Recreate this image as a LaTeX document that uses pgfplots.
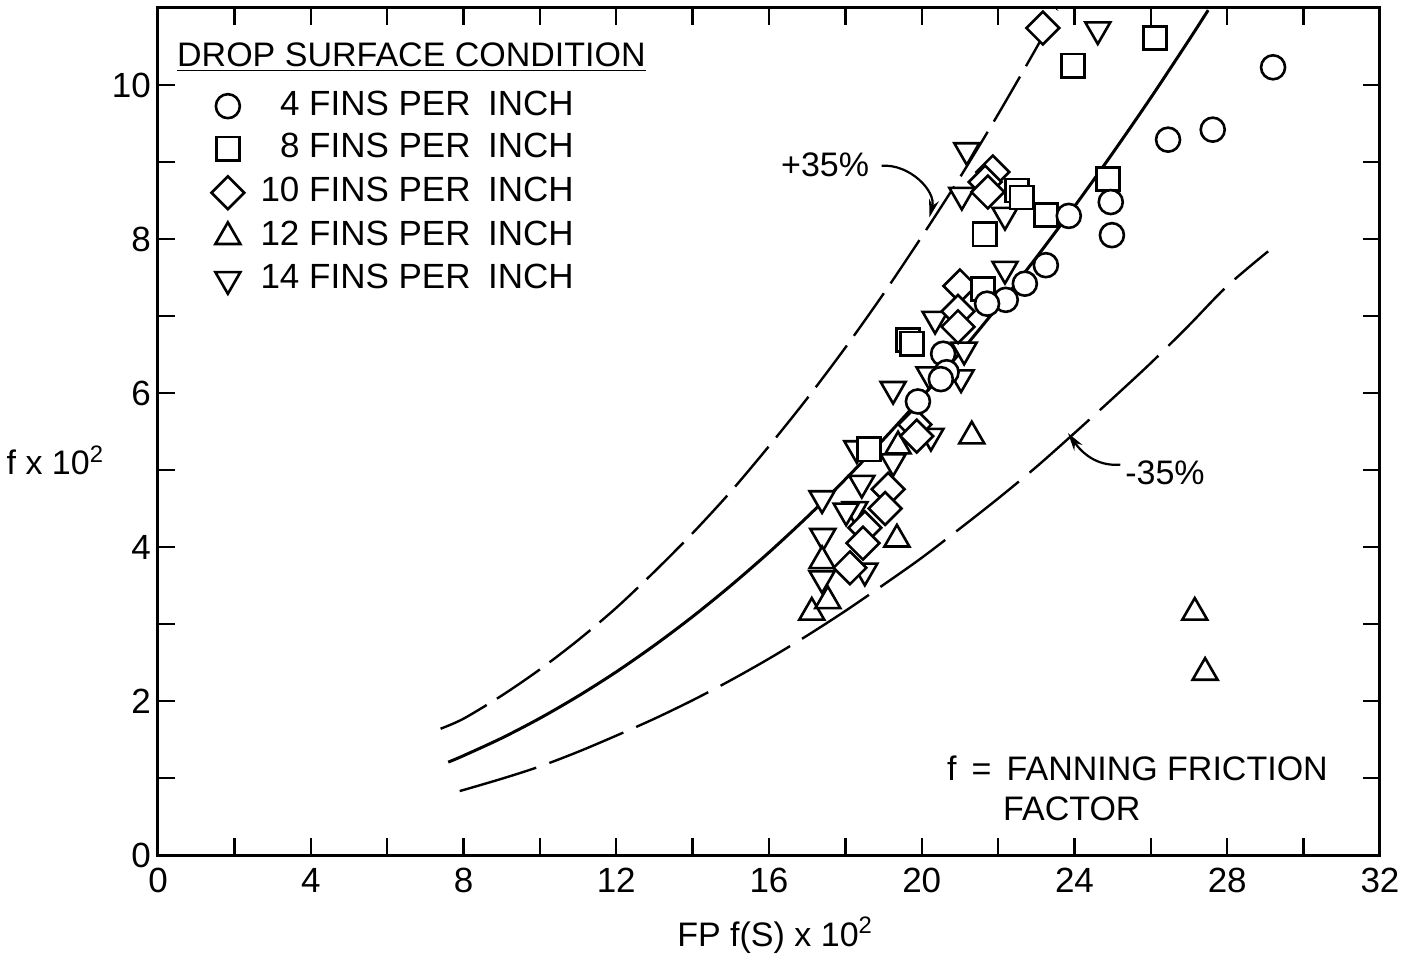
\documentclass[border=0pt]{standalone}
\usepackage{pgfplots}
\pgfplotsset{compat=1.18}
\usepackage{fontspec}
\setmainfont{Liberation Sans}
\usetikzlibrary{arrows.meta}

% correlation curve and the +/-35% bands
\pgfplotstableread{
x y
7.6 1.206
8 1.290
9 1.518
10 1.776
11 2.063
12 2.378
13 2.723
14 3.096
15 3.499
16 3.930
17 4.390
18 4.880
19 5.398
20 5.945
21 6.521
22 7.126
23 7.760
24 8.423
25 9.116
26 9.836
27 10.586
27.5 10.972
}\solidcurve
\pgfplotstableread{
x y
7.4 1.64
8 1.77
9 2.07
10 2.41
11 2.79
12 3.21
13 3.68
14 4.18
15 4.72
16 5.31
17 5.93
18 6.59
19 7.29
20 8.03
21 8.80
22 9.62
23 10.48
23.55 10.98
}\upperband
\pgfplotstableread{
x y
7.9 0.83
9 0.99
10 1.15
11 1.34
12 1.55
13 1.77
14 2.01
15 2.27
16 2.55
17 2.85
18 3.17
19 3.51
20 3.86
21 4.24
22 4.63
23 5.04
24 5.48
25 5.93
26 6.39
27 6.88
28 7.39
29.07 7.84
}\lowerband

% measured points, one table per fin density
\pgfplotstableread{
x y
29.20 10.23
26.45 9.29
27.62 9.42
24.95 8.48
24.98 8.05
23.85 8.30
23.25 7.66
22.70 7.42
22.20 7.21
21.71 7.16
20.56 6.51
20.65 6.27
20.50 6.18
19.90 5.89
}\finsfour
\pgfplotstableread{
x y
26.11 10.61
23.96 10.25
22.49 8.63
22.62 8.54
23.25 8.31
24.88 8.78
21.65 8.06
21.60 7.35
19.64 6.69
19.74 6.64
18.62 5.27
}\finseight
\pgfplotstableread{
x y
23.17 10.74
21.86 8.87
21.66 8.74
21.73 8.61
21.00 7.39
20.95 7.06
20.95 6.86
19.82 5.59
19.87 5.44
19.12 4.75
19.04 4.50
18.51 4.25
18.46 4.05
18.12 3.73
}\finsten
\pgfplotstableread{
x y
27.15 3.15
27.42 2.37
21.31 5.44
19.35 4.10
19.38 5.31
17.12 3.15
17.54 3.30
17.39 3.82
}\finstwelve
\pgfplotstableread{
x y
24.61 10.72
21.18 9.15
21.05 8.57
22.18 8.31
22.18 7.61
20.35 6.96
21.11 6.56
20.19 6.24
21.03 6.20
19.25 6.05
20.24 5.44
18.30 5.28
19.25 5.11
18.43 4.83
17.39 4.63
18.25 4.49
18.02 4.47
17.41 4.14
18.51 3.69
17.39 3.59
}\finsfourteen

\begin{document}
\begin{tikzpicture}[font=\fontsize{17}{20}\selectfont]
\path[use as bounding box] (-79pt,-50pt) rectangle (623pt,427.5pt);
\begin{axis}[
  scale only axis, width=611pt, height=423.5pt,
  xmin=0, xmax=32, ymin=0, ymax=11,
  xtick={0,2,...,32},
  xticklabels={0,,4,,8,,12,,16,,20,,24,,28,,32},
  ytick={0,1,...,10},
  yticklabels={0,,2,,4,,6,,8,,10},
  tick align=inside,
  major tick length=8.5pt,
  axis line style={line width=1.5pt},
  every tick/.style={line width=1.2pt, black},
  /pgf/number format/assume math mode=true,
  ticklabel style={font=\fontsize{17.5}{20}\selectfont},
  xticklabel style={yshift=-3pt},
  xlabel={FP f(S) x 10\textsuperscript{2}},
  ylabel={f x 10\textsuperscript{2}},
  every axis x label/.style={at={(axis description cs:0.505,-0.0945)}, anchor=center},
  every axis y label/.style={at={(axis description cs:-0.084,0.466)}, anchor=center},
  clip=true,
  legend style={draw=none, fill=none, inner sep=0pt, outer sep=0pt,
    at={(axis cs:1.4,9.92)}, anchor=north west,
    nodes={inner sep=0pt, text height=12pt, text depth=3pt, font=\fontsize{17.5}{20}\selectfont},
    row sep=6.3pt, column sep=8pt},
  legend cell align=left,
  reverse legend,
]
\addplot[forget plot, line width=1.5pt, smooth] table {\solidcurve};
\addplot[forget plot, line width=1.2pt, smooth, dash pattern=on 26pt off 6pt] table {\upperband};
\addplot[forget plot, line width=1.2pt, smooth, dash pattern=on 40pt off 7pt] table {\lowerband};

\addplot[only marks, mark=triangle*, mark size=7.2pt,
  mark options={line width=1.3pt, draw=black, fill=white, solid, rotate=180}] table {\finsfourteen};
\addlegendentry{\makebox[1.12em][r]{14} FINS PER\hspace{0.5em}INCH}
\addplot[only marks, mark=triangle*, mark size=7.2pt,
  mark options={line width=1.3pt, draw=black, fill=white, solid}] table {\finstwelve};
\addlegendentry{\makebox[1.12em][r]{12} FINS PER\hspace{0.5em}INCH}
\addplot[only marks, mark=square*, mark size=5.8pt,
  mark options={line width=1.3pt, draw=black, fill=white, solid, rotate=45}] table {\finsten};
\addlegendentry{\makebox[1.12em][r]{10} FINS PER\hspace{0.5em}INCH}
\addplot[only marks, mark=square*, mark size=5.8pt,
  mark options={line width=1.3pt, draw=black, fill=white, solid}] table {\finseight};
\addlegendentry{\makebox[1.12em][r]{8} FINS PER\hspace{0.5em}INCH}
\addplot[only marks, mark=*, mark size=6pt,
  mark options={line width=1.3pt, draw=black, fill=white, solid}] table {\finsfour};
\addlegendentry{\makebox[1.12em][r]{4} FINS PER\hspace{0.5em}INCH}

\node[anchor=center] at (rel axis cs:0.2074,0.942) {\underline{DROP SURFACE CONDITION}};

\node[anchor=center] at (axis cs:17.47,8.96) {+35\%};
\draw[line width=1.1pt, -{Stealth[length=9pt,width=5pt]}] (axis cs:18.95,8.95) to[out=5,in=75] (axis cs:20.2,8.28);
\node[anchor=center] at (axis cs:26.37,4.96) {-35\%};
\draw[line width=1.1pt, -{Stealth[length=9pt,width=5pt]}] (axis cs:25.2,5.07) to[out=185,in=-55] (axis cs:23.83,5.48);

\node[anchor=west, align=left] at (axis cs:20.48,0.87) {f \,=\, FANNING FRICTION\\\hspace{1.65em}FACTOR};
\end{axis}
\end{tikzpicture}
\end{document}
